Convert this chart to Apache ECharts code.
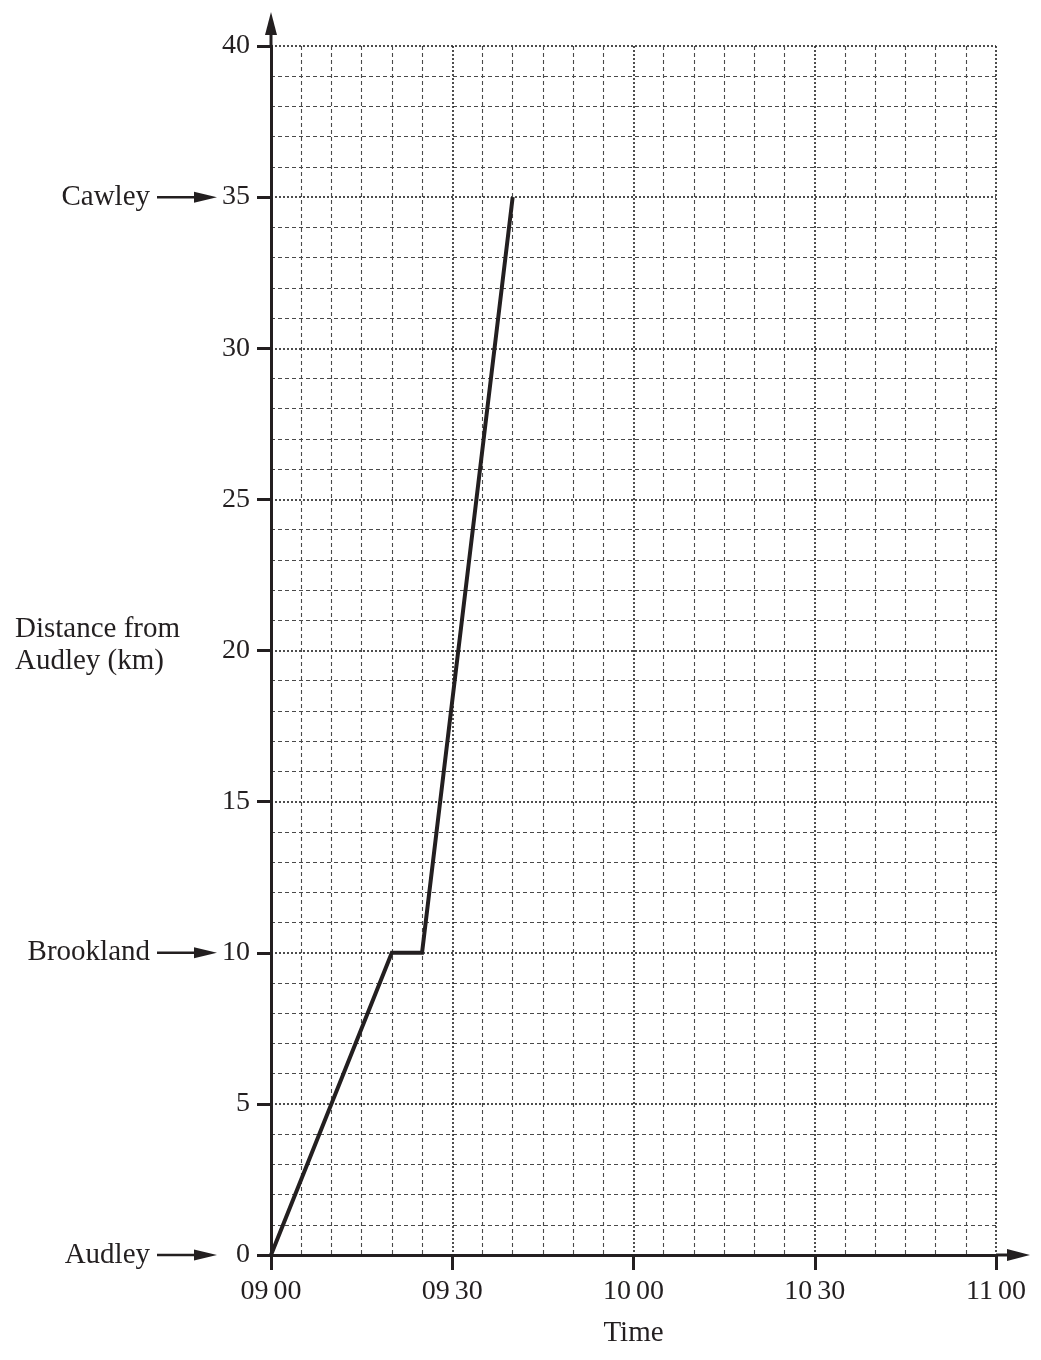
<!DOCTYPE html>
<html>
<head>
<meta charset="utf-8">
<script src="https://cdn.jsdelivr.net/npm/echarts@6/dist/echarts.min.js"></script>
<style>
html,body{margin:0;padding:0;background:#fff;}
#chart{width:1041px;height:1360px;}
</style>
</head>
<body>
<div id="chart"></div>
<script>
// Data (minutes after 09 00, distance in km)
const times = [0, 20, 25, 40];
const distances = [0, 10, 10, 35];
const xTickHours = ['09', '09', '10', '10', '11'];
const xTickMinutes = ['00', '30', '00', '30', '00'];
const stationNames = ['Audley', 'Brookland', 'Cawley'];
const stationValues = [0, 10, 35];

const ink = '#231f20';
const font = 'Liberation Serif, Times New Roman, serif';
const wordSize = 29;
const numSize = 28;

const chart = echarts.init(document.getElementById('chart'));
const option = {
  backgroundColor: '#fff',
  animation: false,
  grid: { left: 271, right: 45, top: 46, bottom: 105, outerBoundsMode: 'none' },
  xAxis: {
    type: 'value', min: 0, max: 120, interval: 30,
    name: 'Time', nameLocation: 'middle', nameGap: 64,
    nameTextStyle: { fontFamily: font, fontSize: wordSize, color: ink },
    axisLine: { show: true, lineStyle: { color: ink, width: 3 } },
    axisTick: { show: true, inside: false, length: 15, lineStyle: { color: ink, width: 3 } },
    axisLabel: {
      margin: 23, fontFamily: font, fontSize: numSize, color: ink,
      formatter: v => {
        const i = Math.round(v / 30);
        return '{h|' + xTickHours[i] + '}{m|' + xTickMinutes[i] + '}';
      },
      rich: {
        h: { fontFamily: font, fontSize: numSize, color: ink },
        m: { fontFamily: font, fontSize: numSize, color: ink, padding: [0, 0, 0, 5] }
      }
    },
    splitLine: { show: true, lineStyle: { color: '#222', width: 1.6, type: [2, 2] } },
    minorTick: { show: false, splitNumber: 6 },
    minorSplitLine: { show: true, lineStyle: { color: '#4a4a4a', width: 1.1, type: [4, 3] } }
  },
  yAxis: {
    type: 'value', min: 0, max: 40, interval: 5,
    name: 'Distance from\nAudley (km)', nameLocation: 'middle', nameRotate: 0, nameGap: 256,
    nameTextStyle: { fontFamily: font, fontSize: wordSize, color: ink, align: 'left', verticalAlign: 'bottom', lineHeight: 32, padding: [0, 0, -27, 0] },
    axisLine: { show: true, lineStyle: { color: ink, width: 3 } },
    axisTick: { show: true, inside: false, length: 14, lineStyle: { color: ink, width: 3 } },
    axisLabel: { margin: 21, fontFamily: font, fontSize: numSize, color: ink },
    splitLine: { show: true, lineStyle: { color: '#222', width: 1.6, type: [2, 2] } },
    minorTick: { show: false, splitNumber: 5 },
    minorSplitLine: { show: true, lineStyle: { color: '#4a4a4a', width: 1.1, type: [4, 3] } }
  },
  series: [{
    type: 'line',
    data: times.map((t, i) => [t, distances[i]]),
    showSymbol: false,
    symbol: 'none',
    clip: false,
    z: 10,
    lineStyle: { color: ink, width: 4, join: 'miter' }
  }]
};
chart.setOption(option);

// Decorations: axis arrow heads and station arrows
const origin = chart.convertToPixel({ gridIndex: 0 }, [0, 0]);
const yTop = chart.convertToPixel({ gridIndex: 0 }, [0, 40]);
const xEnd = chart.convertToPixel({ gridIndex: 0 }, [120, 0]);
const graphics = [];
graphics.push({ type: 'line', shape: { x1: origin[0], y1: yTop[1], x2: origin[0], y2: yTop[1] - 14 }, style: { stroke: ink, lineWidth: 3 }, z: 20 });
graphics.push({ type: 'polygon', shape: { points: [[origin[0], yTop[1] - 34], [origin[0] - 6, yTop[1] - 11], [origin[0] + 6, yTop[1] - 11]] }, style: { fill: ink }, z: 20 });
graphics.push({ type: 'line', shape: { x1: xEnd[0], y1: origin[1], x2: xEnd[0] + 14, y2: origin[1] }, style: { stroke: ink, lineWidth: 3 }, z: 20 });
graphics.push({ type: 'polygon', shape: { points: [[xEnd[0] + 34, origin[1]], [xEnd[0] + 11, origin[1] - 6], [xEnd[0] + 11, origin[1] + 6]] }, style: { fill: ink }, z: 20 });
stationNames.forEach((name, i) => {
  const p = chart.convertToPixel({ gridIndex: 0 }, [0, stationValues[i]]);
  const y = p[1];
  graphics.push({ type: 'text', style: { text: name, x: 150, y: y, align: 'right', verticalAlign: 'middle', font: wordSize + 'px ' + font, fill: ink }, z: 20 });
  graphics.push({ type: 'line', shape: { x1: 157, y1: y, x2: 200, y2: y }, style: { stroke: ink, lineWidth: 2.5 }, z: 20 });
  graphics.push({ type: 'polygon', shape: { points: [[217, y], [194, y - 5.5], [194, y + 5.5]] }, style: { fill: ink }, z: 20 });
});
chart.setOption({ graphic: graphics });
</script>
</body>
</html>
